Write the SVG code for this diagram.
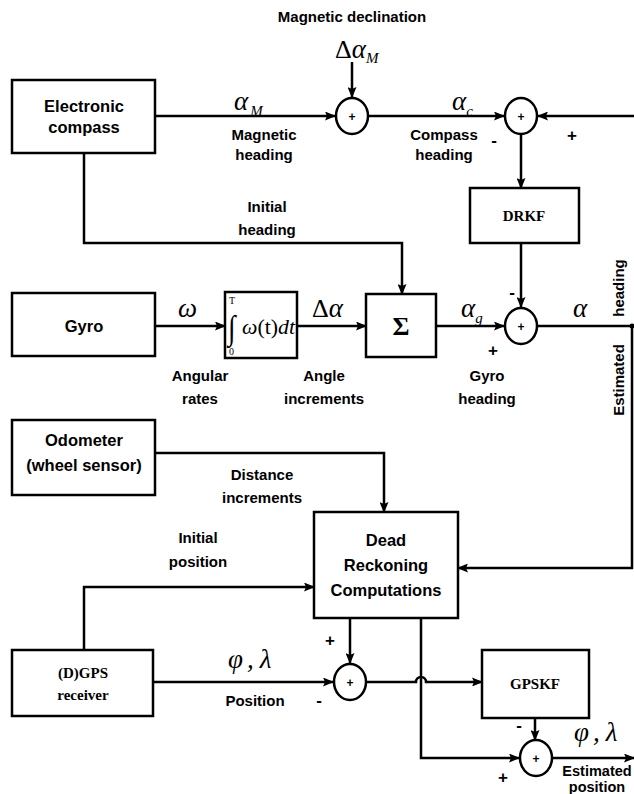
<svg xmlns="http://www.w3.org/2000/svg" width="634" height="794" viewBox="0 0 634 794">
<style>
.box{fill:#fff;stroke:#000;stroke-width:2.5}
.sum{fill:#fff;stroke:#000;stroke-width:2.5}
.ln{fill:none;stroke:#000;stroke-width:2.5}
.lb{font-family:"Liberation Sans",Arial,sans-serif;font-weight:bold;font-size:15px;text-anchor:middle;fill:#000}
.bt{font-family:"Liberation Sans",Arial,sans-serif;font-weight:bold;font-size:16.5px;text-anchor:middle;fill:#000}
.tb{font-family:"Liberation Serif","Times New Roman",serif;font-weight:bold;font-size:15px;text-anchor:middle;fill:#000}
.m{font-family:"Liberation Serif","Times New Roman",serif;font-style:italic;font-size:27px;fill:#000}
.ms{font-family:"Liberation Serif","Times New Roman",serif;font-style:italic;font-size:15px;fill:#000}
.mu{font-family:"Liberation Serif","Times New Roman",serif;font-size:26px;fill:#000}
.pl{font-family:"Liberation Sans",Arial,sans-serif;font-weight:bold;font-size:12px;text-anchor:middle;fill:#000}
.sg{font-family:"Liberation Sans",Arial,sans-serif;font-weight:bold;font-size:17px;text-anchor:middle;fill:#000}
.lbs{font-family:"Liberation Sans",Arial,sans-serif;font-weight:bold;font-size:14.5px;text-anchor:middle;fill:#000}
.lim{font-family:"Liberation Serif","Times New Roman",serif;font-size:10px;fill:#000}
</style>
<defs>
<marker id="ah" markerWidth="11" markerHeight="9" refX="10" refY="4.5" orient="auto" markerUnits="userSpaceOnUse">
<path d="M0,0 L11,4.5 L0,9 L2,4.5 z" fill="#000"/>
</marker>
</defs>
<rect width="634" height="794" fill="#fff"/>
<g id="connectors">
<line class="ln" x1="155" y1="116" x2="335" y2="116" marker-end="url(#ah)"/>
<line class="ln" x1="352" y1="62" x2="352" y2="97" marker-end="url(#ah)"/>
<line class="ln" x1="368" y1="116" x2="504" y2="116" marker-end="url(#ah)"/>
<line class="ln" x1="634" y1="116" x2="538" y2="116" marker-end="url(#ah)"/>
<line class="ln" x1="521" y1="134" x2="521" y2="188" marker-end="url(#ah)"/>
<line class="ln" x1="521" y1="243" x2="521" y2="307" marker-end="url(#ah)"/>
<polyline class="ln" points="84,153 84,243 402,243 402,294" marker-end="url(#ah)"/>
<line class="ln" x1="155" y1="326" x2="225" y2="326" marker-end="url(#ah)"/>
<line class="ln" x1="297" y1="326" x2="366" y2="326" marker-end="url(#ah)"/>
<line class="ln" x1="436" y1="326" x2="504" y2="326" marker-end="url(#ah)"/>
<polyline class="ln" points="537,326 632,326 632,568 458,568" marker-end="url(#ah)"/>
<circle cx="632" cy="326" r="2.5" fill="#000"/>
<polyline class="ln" points="155,453 384,453 384,512" marker-end="url(#ah)"/>
<polyline class="ln" points="84,650 84,587 314,587" marker-end="url(#ah)"/>
<line class="ln" x1="153" y1="682" x2="333" y2="682" marker-end="url(#ah)"/>
<line class="ln" x1="350" y1="618" x2="350" y2="663" marker-end="url(#ah)"/>
<path class="ln" d="M367,682 L416,682 A5,5 0 0 1 426,682 L482,682" marker-end="url(#ah)"/>
<polyline class="ln" points="421,618 421,758 519,758" marker-end="url(#ah)"/>
<line class="ln" x1="535" y1="718" x2="535" y2="740" marker-end="url(#ah)"/>
<line class="ln" x1="553" y1="758" x2="634" y2="758" marker-end="url(#ah)"/>
</g>
<g id="compass">
<rect class="box" x="12" y="80" width="143" height="73"/>
<text class="bt" x="84" y="112">Electronic</text>
<text class="bt" x="84" y="133">compass</text>
</g>
<g id="sum1">
<ellipse class="sum" cx="352" cy="116" rx="16" ry="18"/>
<text class="pl" x="352" y="121">+</text>
</g>
<g id="sum2">
<ellipse class="sum" cx="521" cy="116" rx="16" ry="18"/>
<text class="pl" x="521" y="121">+</text>
</g>
<g id="drkf">
<rect class="box" x="470" y="188" width="109" height="55"/>
<text class="tb" x="524" y="221">DRKF</text>
</g>
<g id="sum3">
<ellipse class="sum" cx="521" cy="326" rx="16" ry="18"/>
<text class="pl" x="521" y="331">+</text>
</g>
<g id="gyro">
<rect class="box" x="12" y="293" width="143" height="63"/>
<text class="bt" x="84" y="332">Gyro</text>
</g>
<g id="integrator">
<rect class="box" x="225" y="292" width="72" height="66"/>
<text x="228" y="339" style="font-family:'Liberation Serif',serif;font-size:34px" transform="translate(228,0) scale(0.8,1) translate(-228,0)">∫</text>
<text class="lim" x="229" y="304">T</text>
<text class="lim" x="229" y="355" font-size="9">0</text>
<text x="242" y="334" style="font-family:'Liberation Serif',serif;font-size:22px" textLength="53" lengthAdjust="spacingAndGlyphs"><tspan font-style="italic">ω</tspan>(t)<tspan font-style="italic">dt</tspan></text>
</g>
<g id="sigma">
<rect class="box" x="366" y="294" width="70" height="63"/>
<text x="401" y="335" style="font-family:'Liberation Serif',serif;font-weight:bold;font-size:26px;text-anchor:middle">Σ</text>
</g>
<g id="odometer">
<rect class="box" x="12" y="420" width="143" height="75"/>
<text class="bt" x="84" y="446">Odometer</text>
<text class="bt" x="84" y="471">(wheel sensor)</text>
</g>
<g id="dr">
<rect class="box" x="314" y="512" width="144" height="106"/>
<text class="bt" x="386" y="546">Dead</text>
<text class="bt" x="386" y="571">Reckoning</text>
<text class="bt" x="386" y="596">Computations</text>
</g>
<g id="gps">
<rect class="box" x="12" y="650" width="141" height="66"/>
<text class="tb" x="83" y="678">(D)GPS</text>
<text class="tb" x="83" y="700">receiver</text>
</g>
<g id="sum4">
<ellipse class="sum" cx="350" cy="682" rx="16" ry="18"/>
<text class="pl" x="350" y="687">+</text>
</g>
<g id="gpskf">
<rect class="box" x="482" y="650" width="107" height="68"/>
<text class="tb" x="535" y="689">GPSKF</text>
</g>
<g id="sum5">
<ellipse class="sum" cx="536" cy="758" rx="16" ry="18"/>
<text class="pl" x="536" y="763">+</text>
</g>
<g id="labels">
<text class="lb" x="352" y="22">Magnetic declination</text>
<text class="mu" x="335" y="58">Δ<tspan class="m">α</tspan><tspan class="ms" dy="5">M</tspan></text>
<text class="m" x="234" y="110">α<tspan class="ms" dx="2" dy="6">M</tspan></text>
<text class="lb" x="264" y="140">Magnetic</text>
<text class="lb" x="264" y="160">heading</text>
<text class="m" x="452" y="110">α<tspan class="ms" dy="6">c</tspan></text>
<text class="lb" x="444" y="140">Compass</text>
<text class="lb" x="444" y="160">heading</text>
<text class="sg" x="494" y="146">-</text>
<text class="sg" x="572" y="141">+</text>
<text class="lb" x="267" y="212">Initial</text>
<text class="lb" x="267" y="235">heading</text>
<text class="m" x="178" y="317">ω</text>
<text class="mu" x="312" y="317">Δ<tspan class="m">α</tspan></text>
<text class="m" x="461" y="317">α<tspan class="ms" dy="6">g</tspan></text>
<text class="sg" x="512" y="298">-</text>
<text class="sg" x="493" y="356">+</text>
<text class="m" x="573" y="317">α</text>
<text class="lb" x="200" y="381">Angular</text>
<text class="lb" x="200" y="404">rates</text>
<text class="lb" x="324" y="381">Angle</text>
<text class="lb" x="324" y="404">increments</text>
<text class="lb" x="487" y="381">Gyro</text>
<text class="lb" x="487" y="404">heading</text>
<text class="lb" transform="translate(624,288) rotate(-90)">heading</text>
<text class="lb" transform="translate(624,380) rotate(-90)">Estimated</text>
<text class="lb" x="262" y="480">Distance</text>
<text class="lb" x="262" y="503">increments</text>
<text class="lb" x="198" y="543">Initial</text>
<text class="lb" x="198" y="567">position</text>
<text class="m" x="228" y="668">φ<tspan dx="4">,</tspan><tspan dx="6">λ</tspan></text>
<text class="lb" x="255" y="706">Position</text>
<text class="sg" x="330" y="646">+</text>
<text class="sg" x="319" y="706">-</text>
<text class="sg" x="519" y="731">-</text>
<text class="sg" x="503" y="783">+</text>
<text class="m" x="574" y="741">φ<tspan dx="4">,</tspan><tspan dx="6">λ</tspan></text>
<text class="lbs" x="597" y="776">Estimated</text>
<text class="lbs" x="597" y="792">position</text>
</g>
</svg>
